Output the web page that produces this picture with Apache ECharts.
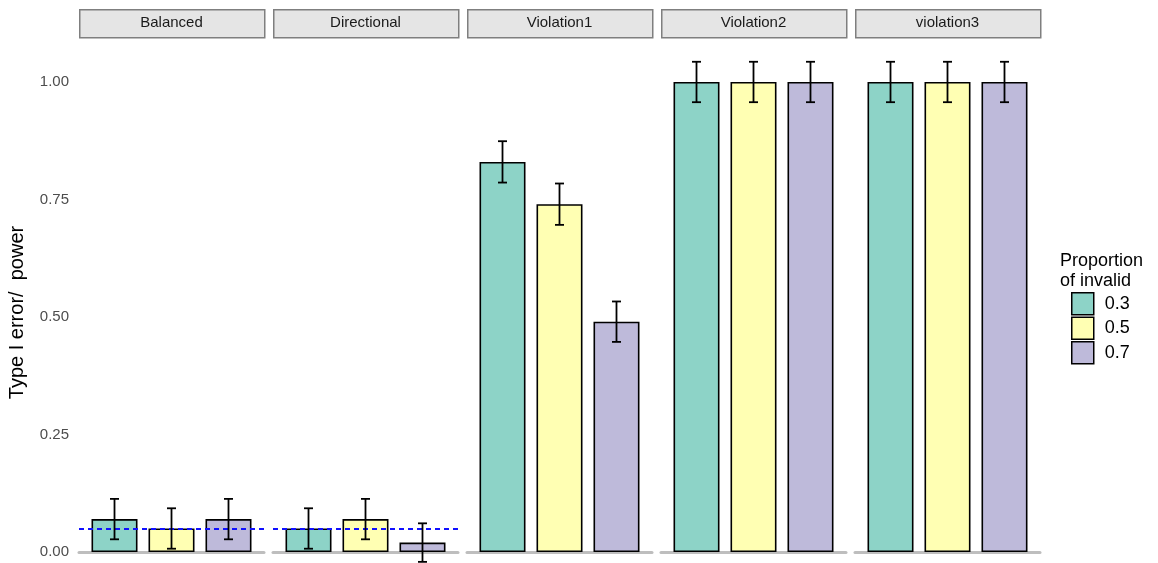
<!DOCTYPE html>
<html>
<head>
<meta charset="utf-8">
<script src="https://cdn.jsdelivr.net/npm/echarts@6/dist/echarts.min.js"></script>
<style>
  html, body { margin: 0; padding: 0; background: #fff; }
  #chart { width: 1158px; height: 563px; }
</style>
</head>
<body>
<div id="chart"></div>
<script>
// Facets, groups and estimated rejection rates with error margins
const facets = ['Balanced', 'Directional', 'Violation1', 'Violation2', 'violation3'];
const groups = ['0.3', '0.5', '0.7'];
const colors = ['#8DD3C7', '#FFFFB3', '#BEBADA'];
const rate03 = [0.07, 0.05, 0.83, 1.00, 1.00];
const rate05 = [0.05, 0.07, 0.74, 1.00, 1.00];
const rate07 = [0.07, 0.02, 0.49, 1.00, 1.00];
const margin03 = [0.043, 0.043, 0.044, 0.043, 0.043];
const margin05 = [0.043, 0.043, 0.044, 0.043, 0.043];
const margin07 = [0.043, 0.041, 0.043, 0.043, 0.043];
const yTicks = [0, 0.25, 0.5, 0.75, 1.0];
const refLevel = 0.05;             // nominal alpha, drawn in the first two facets
const refFacets = ['Balanced', 'Directional'];

const rates = [rate03, rate05, rate07];
const margins = [margin03, margin05, margin07];

// Panel layout (the panel runs a little past the bottom edge of the canvas)
const panelLeft0 = 79, panelStep = 194, panelWidth = 185;
const panelTop = 37, panelHeight = 551;
const yMin = -0.0766, yMax = 1.0957;
const xMin = 0.377, xMax = 3.623;   // bars sit at x = 1, 2, 3
const font = 'Liberation Sans, Arial, sans-serif';

const grids = [], xAxes = [], yAxes = [], series = [], graphics = [];

facets.forEach((name, i) => {
  const left = panelLeft0 + i * panelStep;
  grids.push({
    left: left, top: panelTop, width: panelWidth, height: panelHeight,
    containLabel: false, outerBoundsMode: 'none'
  });
  xAxes.push({
    gridIndex: i, type: 'value', min: xMin, max: xMax,
    axisLabel: { show: false }, axisTick: { show: false }, splitLine: { show: false },
    axisLine: { show: true, onZero: true, lineStyle: { color: '#bebebe', width: 3 } }
  });
  yAxes.push({
    gridIndex: i, type: 'value', min: yMin, max: yMax,
    splitLine: { show: false }, axisTick: { show: false }, axisLine: { show: false },
    axisLabel: i === 0 ? {
      show: true, customValues: yTicks, margin: 10,
      color: '#4d4d4d', fontSize: 15, fontFamily: font,
      formatter: v => v.toFixed(2)
    } : { show: false },
    name: i === 0 ? 'Type I error/  power' : '',
    nameLocation: 'middle', nameRotate: 90, nameGap: 52,
    nameTextStyle: { color: '#000', fontSize: 20, fontFamily: font }
  });

  groups.forEach((g, j) => {
    const s = {
      name: g, type: 'bar', xAxisIndex: i, yAxisIndex: i,
      barWidth: 46, barGap: '-100%',
      itemStyle: { color: colors[j], borderColor: '#000', borderWidth: 1.6 },
      data: [[j + 1, rates[j][i]]],
      z: 2
    };
    if (j === groups.length - 1 && refFacets.includes(name)) {
      s.markLine = {
        silent: true, symbol: 'none', label: { show: false },
        lineStyle: { color: '#1010ff', type: [5, 4], width: 2 },
        data: [{ yAxis: refLevel }]
      };
    }
    series.push(s);
  });

  // error bars
  series.push({
    type: 'custom', xAxisIndex: i, yAxisIndex: i, z: 5,
    encode: { x: 0, y: [1, 2] },
    data: groups.map((g, j) => [j + 1, rates[j][i] - margins[j][i], rates[j][i] + margins[j][i]]),
    renderItem: (params, api) => {
      const x = api.value(0);
      const top = api.coord([x, api.value(2)]);
      const bot = api.coord([x, api.value(1)]);
      const hw = 4.5;
      const st = { stroke: '#000', lineWidth: 1.8 };
      return {
        type: 'group',
        children: [
          { type: 'line', shape: { x1: top[0], y1: top[1], x2: bot[0], y2: bot[1] }, style: st },
          { type: 'line', shape: { x1: top[0] - hw, y1: top[1], x2: top[0] + hw, y2: top[1] }, style: st },
          { type: 'line', shape: { x1: bot[0] - hw, y1: bot[1], x2: bot[0] + hw, y2: bot[1] }, style: st }
        ]
      };
    }
  });

  // facet strip
  graphics.push({
    type: 'rect', left: left, top: 9,
    shape: { width: panelWidth, height: 28 },
    style: { fill: '#e5e5e5', stroke: '#7f7f7f', lineWidth: 1.5 }
  });
  graphics.push({
    type: 'text', x: left + panelWidth / 2, y: 23,
    style: { text: name, fill: '#1a1a1a', fontSize: 15, fontFamily: font, align: 'center', verticalAlign: 'middle' }
  });
});

// legend title
graphics.push({
  type: 'text', left: 1060, top: 251,
  style: { text: 'Proportion\nof invalid', fill: '#000', fontSize: 18, fontFamily: font, lineHeight: 20 }
});

const chart = echarts.init(document.getElementById('chart'), null, { renderer: 'canvas' });
chart.setOption({
  backgroundColor: '#fff',
  animation: false,
  grid: grids,
  xAxis: xAxes,
  yAxis: yAxes,
  legend: {
    data: groups, orient: 'vertical', left: 1071, top: 292,
    itemWidth: 22, itemHeight: 22, itemGap: 1, padding: 0,
    icon: 'rect',
    itemStyle: { borderColor: '#000', borderWidth: 1.5 },
    textStyle: { color: '#000', fontSize: 18, fontFamily: font, padding: [0, 0, 0, 6] }
  },
  graphic: graphics,
  series: series
});
</script>
</body>
</html>
